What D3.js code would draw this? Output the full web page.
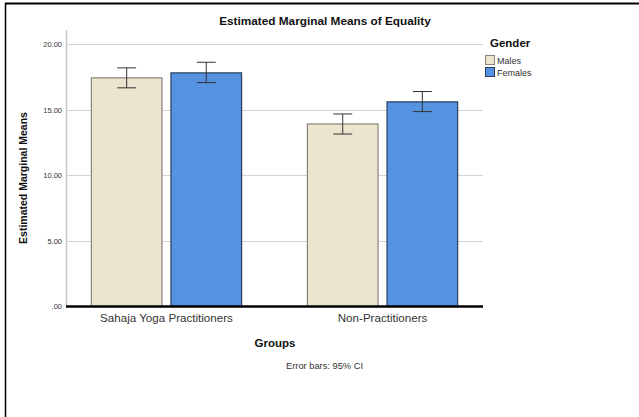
<!DOCTYPE html>
<html><head><meta charset="utf-8">
<script src="https://cdn.jsdelivr.net/npm/d3@7"></script>
<style>body{margin:0;background:#fff}svg{display:block}text{font-family:"Liberation Sans",Arial,sans-serif}</style>
</head><body>
<script>
const groups = ["Sahaja Yoga Practitioners", "Non-Practitioners"];
const genders = ["Males", "Females"];
const means = [[17.42, 17.80], [13.91, 15.59]];
const ciLow = [[16.66, 17.06], [13.14, 14.85]];
const ciHigh = [[18.18, 18.61], [14.67, 16.38]];
const yTicks = [0, 5, 10, 15, 20];
const colors = ["#ebe4cf", "#5592e0"];
const strokes = ["#8a8478", "#2c3e5c"];

const W = 639, H = 417;
const svg = d3.select("body").append("svg").attr("width", W).attr("height", H);

// outer frame (top + left)
svg.append("line").attr("x1", 5).attr("x2", W).attr("y1", 3.5).attr("y2", 3.5).attr("stroke", "#000").attr("stroke-width", 2);
svg.append("line").attr("x1", 5.5).attr("x2", 5.5).attr("y1", 3).attr("y2", H).attr("stroke", "#000").attr("stroke-width", 1.5);

const left = 66, right = 483;
const y = d3.scaleLinear().domain([0, 20]).range([306.5, 44]);
const x0 = d3.scaleBand().domain(groups).range([left, right]).paddingInner(0.3).paddingOuter(0.115);
const x1 = d3.scaleBand().domain(genders).range([0, x0.bandwidth()]).paddingInner(0.1);

// gridlines
svg.append("g").selectAll("line").data(yTicks.filter(d => d > 0)).join("line")
  .attr("x1", left).attr("x2", right).attr("y1", d => Math.round(y(d)) + 0.5).attr("y2", d => Math.round(y(d)) + 0.5)
  .attr("stroke", "#d4d4d4").attr("stroke-width", 1);

// y axis
const yAxis = d3.axisLeft(y).tickValues(yTicks).tickSize(0).tickPadding(4)
  .tickFormat(d => d === 0 ? ".00" : d3.format(".2f")(d));
const gy = svg.append("g").attr("transform", `translate(${left},0)`).call(yAxis);
gy.select(".domain").remove();
gy.selectAll("text").attr("font-size", 7.5).attr("fill", "#333").attr("dy", "0.32em");
svg.append("line").attr("x1", left + 0.5).attr("x2", left + 0.5).attr("y1", 30).attr("y2", y(0))
  .attr("stroke", "#c8c8c8").attr("stroke-width", 1.5);

// bars
const gBars = svg.append("g");
groups.forEach((g, gi) => {
  genders.forEach((s, si) => {
    const bx = x0(g) + x1(s);
    gBars.append("rect").attr("x", bx + 0.5).attr("y", y(means[gi][si]))
      .attr("width", x1.bandwidth() - 1).attr("height", y(0) - y(means[gi][si]))
      .attr("fill", colors[si]).attr("stroke", strokes[si]).attr("stroke-width", 1.2);
    const cx = bx + x1.bandwidth() / 2;
    const cap = 9.5;
    const eb = gBars.append("g").attr("stroke", "#333").attr("stroke-width", 1).attr("fill", "none");
    eb.append("line").attr("x1", cx).attr("x2", cx).attr("y1", y(ciHigh[gi][si])).attr("y2", y(ciLow[gi][si]));
    eb.append("line").attr("x1", cx - cap).attr("x2", cx + cap).attr("y1", y(ciHigh[gi][si])).attr("y2", y(ciHigh[gi][si]));
    eb.append("line").attr("x1", cx - cap).attr("x2", cx + cap).attr("y1", y(ciLow[gi][si])).attr("y2", y(ciLow[gi][si]));
  });
});

// x axis
svg.append("line").attr("x1", left).attr("x2", right).attr("y1", y(0)).attr("y2", y(0)).attr("stroke", "#000").attr("stroke-width", 2.5);
const xAxis = d3.axisBottom(x0).tickSize(0).tickPadding(7);
const gx = svg.append("g").attr("transform", `translate(0,${y(0)})`).call(xAxis);
gx.select(".domain").remove();
gx.selectAll("text").attr("font-size", 11.6).attr("fill", "#333");

// titles
svg.append("text").attr("x", 325).attr("y", 25).attr("text-anchor", "middle")
  .attr("font-size", 11.8).attr("font-weight", "bold").attr("fill", "#111").text("Estimated Marginal Means of Equality");
svg.append("text").attr("x", 275).attr("y", 347).attr("text-anchor", "middle")
  .attr("font-size", 11.5).attr("font-weight", "bold").attr("fill", "#111").text("Groups");
svg.append("text").attr("transform", "translate(27,178) rotate(-90)").attr("text-anchor", "middle")
  .attr("font-size", 10.5).attr("font-weight", "bold").attr("fill", "#111").text("Estimated Marginal Means");
svg.append("text").attr("x", 324.5).attr("y", 369).attr("text-anchor", "middle")
  .attr("font-size", 9.3).attr("fill", "#333").text("Error bars: 95% CI");

// legend
svg.append("text").attr("x", 490).attr("y", 47).attr("font-size", 11.5).attr("font-weight", "bold").attr("fill", "#111").text("Gender");
const lg = svg.append("g").selectAll("g").data(genders).join("g")
  .attr("transform", (d, i) => `translate(485,${55 + i * 12})`);
lg.append("rect").attr("x", 0.5).attr("y", 0.5).attr("width", 9).attr("height", 9)
  .attr("fill", (d, i) => colors[i]).attr("stroke", (d, i) => strokes[i]);
lg.append("text").attr("x", 12).attr("y", 8.5).attr("font-size", 9).attr("fill", "#333").text(d => d);
</script>
</body></html>
